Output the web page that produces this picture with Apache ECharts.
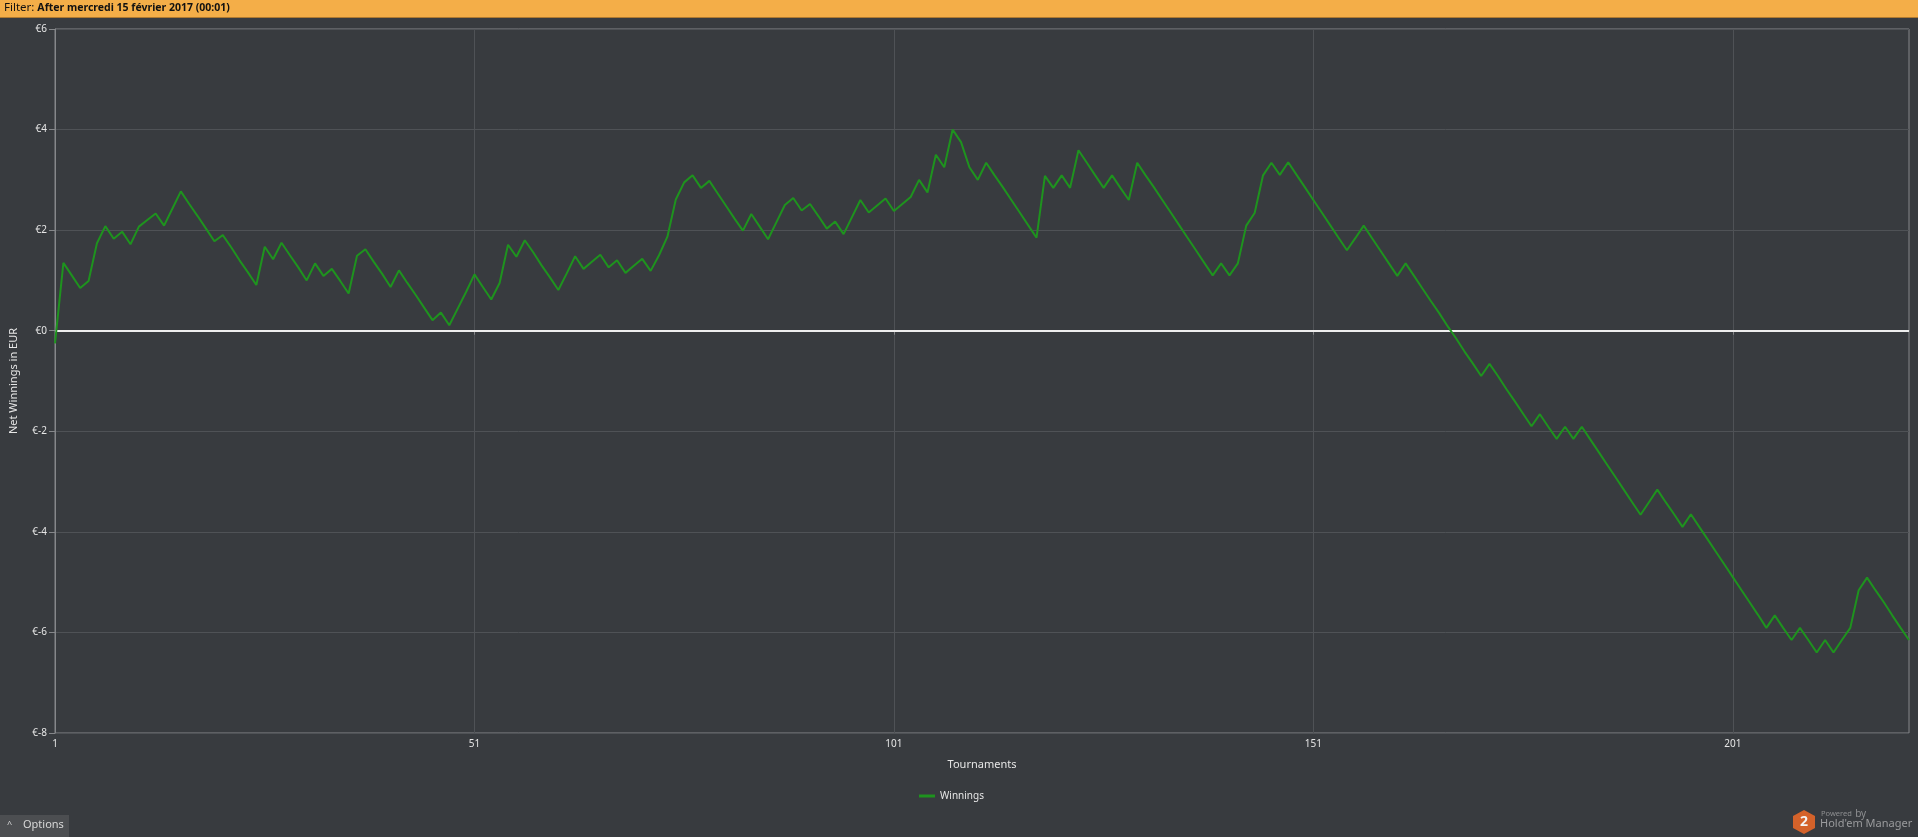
<!DOCTYPE html>
<html>
<head>
<meta charset="utf-8">
<script src="https://cdn.jsdelivr.net/npm/echarts@6/dist/echarts.min.js"></script>
<style>
html,body{margin:0;padding:0;background:#383b3f;overflow:hidden;}
#chart{width:1918px;height:837px;}
</style>
</head>
<body>
<div id="chart"></div>
<script>
// Cumulative net winnings (EUR) per tournament
const winnings = [
  -0.25, 1.35, 1.10, 0.85, 0.99, 1.74, 2.08, 1.83, 1.97, 1.72,
   2.07, 2.20, 2.33, 2.09, 2.43, 2.77, 2.52, 2.28, 2.03, 1.78,
   1.90, 1.66, 1.40, 1.16, 0.91, 1.67, 1.42, 1.75, 1.50, 1.26,
   1.00, 1.34, 1.09, 1.23, 0.99, 0.74, 1.49, 1.62, 1.37, 1.13,
   0.87, 1.20, 0.95, 0.71, 0.46, 0.21, 0.36, 0.11, 0.44, 0.77,
   1.12, 0.87, 0.62, 0.95, 1.71, 1.47, 1.80, 1.56, 1.30, 1.06,
   0.81, 1.14, 1.48, 1.23, 1.37, 1.51, 1.26, 1.40, 1.15, 1.29,
   1.43, 1.19, 1.50, 1.87, 2.61, 2.95, 3.09, 2.84, 2.98, 2.73,
   2.48, 2.23, 1.99, 2.32, 2.07, 1.82, 2.16, 2.50, 2.64, 2.39,
   2.52, 2.28, 2.03, 2.17, 1.92, 2.26, 2.60, 2.35, 2.49, 2.63,
   2.38, 2.52, 2.66, 3.00, 2.75, 3.50, 3.25, 4.00, 3.75, 3.25,
   3.00, 3.34, 3.09, 2.85, 2.60, 2.35, 2.10, 1.85, 3.08, 2.84,
   3.09, 2.84, 3.59, 3.34, 3.09, 2.84, 3.09, 2.84, 2.60, 3.34,
   3.09, 2.85, 2.60, 2.35, 2.10, 1.85, 1.60, 1.35, 1.10, 1.34,
   1.10, 1.34, 2.09, 2.34, 3.09, 3.34, 3.10, 3.35, 3.10, 2.85,
   2.60, 2.35, 2.10, 1.85, 1.60, 1.84, 2.09, 1.84, 1.59, 1.34,
   1.09, 1.34, 1.09, 0.84, 0.59, 0.35, 0.09, -0.15, -0.41, -0.65,
  -0.90, -0.66, -0.90, -1.16, -1.40, -1.65, -1.90, -1.66, -1.91, -2.15,
  -1.91, -2.15, -1.91, -2.16, -2.41, -2.66, -2.91, -3.16, -3.41, -3.66,
  -3.41, -3.16, -3.41, -3.65, -3.90, -3.65, -3.90, -4.15, -4.40, -4.65,
  -4.90, -5.15, -5.40, -5.65, -5.91, -5.66, -5.91, -6.15, -5.91, -6.15,
  -6.40, -6.15, -6.40, -6.15, -5.91, -5.16, -4.91, -5.16, -5.40, -5.66,
  -5.91, -6.15
];
// Tournament numbers (category axis)
const tournaments = winnings.map((_, i) => String(i + 1));
// Tick labels shown on the x axis
const xTickLabels = ['1', '51', '101', '151', '201'];
// Y axis range
const yMin = -8, yMax = 6, yStep = 2;
const seriesName = 'Winnings';
const filterPrefix = 'Filter: ';
const filterText = 'After mercredi 15 février 2017 (00:01)';

const FONT = '"Noto Sans", "DejaVu Sans", sans-serif';
const chart = echarts.init(document.getElementById('chart'), null, {renderer: 'canvas'});
const showTick = (idx, val) => xTickLabels.includes(val);

chart.setOption({
  backgroundColor: '#383b3f',
  animation: false,
  textStyle: {fontFamily: FONT},
  grid: {
    left: 55, right: 9, top: 29, bottom: 104,
    show: true, borderColor: '#85878a', borderWidth: 1,
    backgroundColor: 'transparent',
    outerBoundsMode: 'none'
  },
  legend: {
    data: [seriesName],
    left: 914, top: 786,
    icon: 'rect', itemWidth: 16, itemHeight: 3, itemGap: 10,
    textStyle: {color: '#e6e6e6', fontSize: 10, fontFamily: FONT},
    selectedMode: false
  },
  xAxis: {
    type: 'category',
    data: tournaments,
    boundaryGap: false,
    name: 'Tournaments',
    nameLocation: 'middle',
    nameGap: 26,
    nameTextStyle: {color: '#e6e6e6', fontSize: 11, fontFamily: FONT},
    axisLine: {show: true, lineStyle: {color: '#85878a', width: 1}},
    axisTick: {show: true, interval: showTick, length: 4, lineStyle: {color: '#85878a'}},
    axisLabel: {interval: showTick, color: '#e6e6e6', fontSize: 10, margin: 6, fontFamily: FONT},
    splitLine: {show: true, interval: showTick, lineStyle: {color: '#4f5256', width: 1}}
  },
  yAxis: {
    type: 'value',
    min: yMin, max: yMax, interval: yStep,
    name: 'Net Winnings in EUR',
    nameLocation: 'middle',
    nameRotate: 90,
    nameGap: 36,
    nameTextStyle: {color: '#e6e6e6', fontSize: 11, fontFamily: FONT},
    axisLine: {show: true, lineStyle: {color: '#85878a', width: 1}},
    axisTick: {show: true, length: 6, lineStyle: {color: '#85878a'}},
    axisLabel: {color: '#e6e6e6', fontSize: 10, margin: 8, fontFamily: FONT,
      formatter: v => '€' + v},
    splitLine: {show: true, lineStyle: {color: '#4f5256', width: 1}}
  },
  series: [{
    name: seriesName,
    type: 'line',
    data: winnings,
    symbol: 'none',
    showSymbol: false,
    lineStyle: {color: '#1e931e', width: 2},
    itemStyle: {color: '#1e931e'},
    z: 3,
    markLine: {
      silent: true,
      symbol: ['none', 'none'],
      label: {show: false},
      lineStyle: {color: '#eeeeee', width: 2, type: 'solid'},
      data: [{yAxis: 0}],
      z: 2
    }
  }],
  graphic: [
    {type: 'rect', left: 0, top: 0, shape: {width: 1918, height: 17},
      style: {fill: '#f4ae48'}, z: 10},
    {type: 'rect', left: 0, top: 17, shape: {width: 1918, height: 1},
      style: {fill: '#b07a30'}, z: 10},
    {type: 'text', left: 4, top: 2, z: 11,
      style: {
        text: '{a|' + filterPrefix + '}{b|' + filterText + '}',
        rich: {
          a: {fontSize: 11.5, fontFamily: FONT, fill: '#111'},
          b: {fontSize: 10.5, fontWeight: 'bold', fontFamily: FONT, fill: '#111'}
        }
      }},
    {type: 'rect', left: 0, top: 815, shape: {width: 69, height: 22},
      style: {fill: '#4c4e51'}, z: 10},
    {type: 'text', left: 7, top: 820, z: 11,
      style: {text: '^', fontSize: 9, fontFamily: FONT, fill: '#d8d8d8'}},
    {type: 'text', left: 23, top: 819, z: 11,
      style: {text: 'Options', fontSize: 11, fontFamily: FONT, fill: '#d8d8d8'}},
    {type: 'polygon', z: 11,
      shape: {points: [[1804, 810], [1815, 816], [1815, 828], [1804, 834], [1793, 828], [1793, 816]]},
      style: {fill: '#d4622a'}},
    {type: 'text', z: 12, x: 1804, y: 822,
      style: {text: '2', fontSize: 14, fontWeight: 'bold', fontFamily: FONT, fill: '#f3f3f3',
        align: 'center', verticalAlign: 'middle'}},
    {type: 'text', left: 1821, top: 808, z: 11,
      style: {text: '{p|Powered} {q|by}', rich: {
        p: {fontSize: 7.5, fontFamily: FONT, fill: '#8e8f91'},
        q: {fontSize: 10, fontFamily: FONT, fill: '#8e8f91'}
      }}},
    {type: 'text', left: 1820, top: 818, z: 11,
      style: {text: "Hold'em Manager", fontSize: 11, fontFamily: FONT, fill: '#9a9b9d'}}
  ]
});
</script>
</body>
</html>
